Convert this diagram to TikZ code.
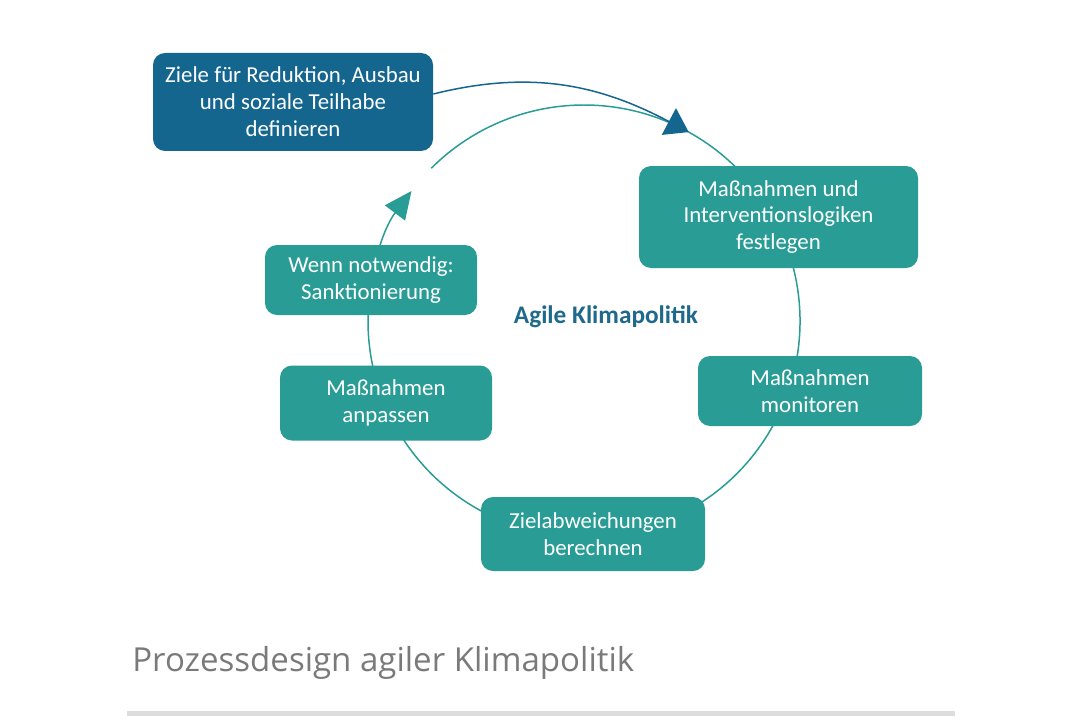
\documentclass[tikz,border=0pt]{standalone}
\usepackage{fontspec}
\setmainfont{Carlito}
\newfontfamily\capfont{Open Sans}
\usetikzlibrary{arrows.meta}
\definecolor{agblue}{HTML}{14668F}
\definecolor{agteal}{HTML}{2A9C96}
\definecolor{agtitle}{HTML}{1F6A8C}
\definecolor{capgray}{HTML}{7A7A7A}
\definecolor{rulegray}{HTML}{DDDDDD}
\begin{document}
\begin{tikzpicture}[every node/.style={font=\fontsize{13}{15.3}\selectfont}]
  \tikzset{
    stepbox/.style={rectangle, rounded corners=0.24cm, fill=agteal, text=white, align=center, inner sep=0pt},
    goalbox/.style={stepbox, fill=agblue},
    ring/.style={agteal, line width=0.85pt}
  }
  \fill[white] (0,0) rectangle (21.6,14.48);
  \coordinate (c) at (11.68,8.06);
  % cycle
  \draw[ring] (c) ++(135:4.32) arc[start angle=135, end angle=61, radius=4.32];
  \draw[ring, -{Triangle[length=0.55cm,width=0.5cm]}] (c) ++(61:4.32)
    arc[start angle=61, end angle=-217, radius=4.32];
  \path (c) ++(61:4.32) coordinate (tip);
  % steps
  \node[goalbox, minimum width=5.6cm, minimum height=1.96cm] (ziele) at (5.86,12.44)
    {Ziele für Reduktion, Ausbau\\und soziale Teilhabe\\definieren};
  \node[stepbox, minimum width=5.58cm, minimum height=2.04cm] (festlegen) at (15.57,10.14)
    {Maßnahmen und\\Interventionslogiken\\festlegen};
  \node[stepbox, minimum width=4.48cm, minimum height=1.4cm] (monitor) at (16.2,6.66)
    {Maßnahmen\\monitoren};
  \node[stepbox, minimum width=4.48cm, minimum height=1.48cm] (abweich) at (11.86,3.80)
    {Zielabweichungen\\berechnen};
  \node[stepbox, minimum width=4.24cm, minimum height=1.5cm] (anpassen) at (7.72,6.42)
    {Maßnahmen\\anpassen};
  \node[stepbox, minimum width=4.24cm, minimum height=1.4cm] (sanktion) at (7.42,8.88)
    {Wenn notwendig:\\Sanktionierung};
  \node[font=\fontsize{14.4}{16}\selectfont\bfseries, text=agtitle] (titel) at (12.12,8.14)
    {Agile Klimapolitik};
  % entry arrow
  \draw[agblue, line width=0.85pt, -{Triangle[length=0.45cm,width=0.6cm]}]
    ([yshift=0.16cm]ziele.east) to[out=14,in=152] (tip);
  % caption
  \node[anchor=base west, inner sep=0pt, text=capgray, font=\capfont\fontsize{18.8}{20}\selectfont]
    (caption) at (2.64,1.06) {Prozessdesign agiler Klimapolitik};
  \draw[rulegray, line width=0.1cm] (2.54,0.21) -- (19.1,0.21);
\end{tikzpicture}
\end{document}
